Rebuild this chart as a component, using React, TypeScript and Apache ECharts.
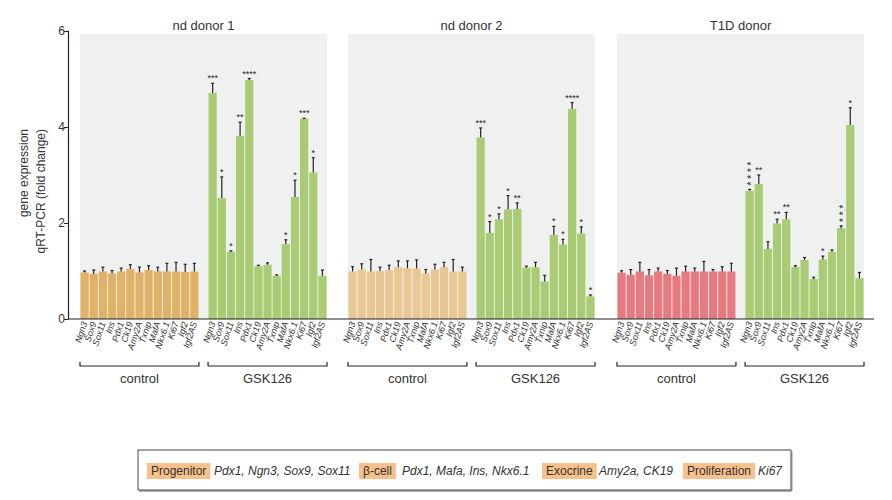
import React, { useEffect, useRef } from "react";
import * as echarts from "echarts";

const GENES = ["Ngn3", "Sox9", "Sox11", "Ins", "Pdx1", "Ck19", "Amy2A", "Txnip", "MafA", "Nkx6.1", "Ki67", "Igf2", "Igf2AS"];
const PANEL_TITLES = ["nd donor 1", "nd donor 2", "T1D donor"];
const GROUP_LABELS = ["control", "GSK126"];

// nd donor 1
const ctrl1 = [0.97, 0.94, 0.99, 0.95, 0.99, 1.04, 0.97, 1.02, 0.99, 0.99, 0.99, 0.98, 0.99];
const ctrl1Err = [0.03, 0.08, 0.09, 0.06, 0.07, 0.09, 0.11, 0.09, 0.09, 0.17, 0.19, 0.16, 0.17];
const gsk1 = [4.71, 2.52, 1.4, 3.82, 4.98, 1.1, 1.13, 0.9, 1.56, 2.54, 4.17, 3.05, 0.9];
const gsk1Err = [0.2, 0.44, 0.02, 0.28, 0.03, 0.02, 0.04, 0.02, 0.09, 0.35, 0.01, 0.31, 0.12];
const gsk1Stars = ["***", "*", "*", "**", "****", "", "", "", "*", "*", "***", "*", ""];

// nd donor 2
const ctrl2 = [0.99, 1.03, 0.99, 1.0, 1.02, 1.08, 1.06, 1.05, 0.95, 1.03, 1.08, 0.99, 0.99];
const ctrl2Err = [0.1, 0.12, 0.25, 0.08, 0.1, 0.13, 0.15, 0.18, 0.08, 0.11, 0.1, 0.25, 0.09];
const gsk2 = [3.78, 1.79, 2.08, 2.28, 2.29, 1.07, 1.08, 0.78, 1.75, 1.55, 4.38, 1.78, 0.47];
const gsk2Err = [0.2, 0.24, 0.11, 0.29, 0.13, 0.03, 0.1, 0.13, 0.18, 0.11, 0.13, 0.14, 0.03];
const gsk2Stars = ["***", "*", "*", "*", "**", "", "", "", "*", "*", "****", "*", "*"];

// T1D donor ("|" = stars stacked vertically)
const ctrl3 = [0.965, 0.92, 0.99, 0.91, 0.99, 0.94, 0.9, 0.99, 0.99, 0.99, 0.99, 0.99, 0.99];
const ctrl3Err = [0.04, 0.11, 0.19, 0.12, 0.07, 0.07, 0.16, 0.11, 0.07, 0.21, 0.04, 0.1, 0.17];
const gsk3 = [2.67, 2.81, 1.46, 1.99, 2.08, 1.08, 1.23, 0.83, 1.24, 1.4, 1.89, 4.04, 0.85];
const gsk3Err = [0.03, 0.19, 0.15, 0.09, 0.14, 0.03, 0.05, 0.04, 0.07, 0.04, 0.05, 0.36, 0.12];
const gsk3Stars = ["*|*|*|*", "**", "", "**", "**", "", "", "", "*", "", "*|*|*", "*", ""];

const Y_TICKS = [0, 2, 4, 6];
const PANEL_BG_TOP = 5.94;

const LEGEND_ITEMS = [
  { head: "Progenitor", genes: "Pdx1, Ngn3, Sox9, Sox11" },
  { head: "β-cell", genes: "Pdx1, Mafa, Ins, Nkx6.1" },
  { head: "Exocrine", genes: "Amy2a, CK19" },
  { head: "Proliferation", genes: "Ki67" },
];

const PANELS = [
  { ctrl: ctrl1, ctrlErr: ctrl1Err, gsk: gsk1, gskErr: gsk1Err, stars: gsk1Stars, ctrlColor: "#dfb267" },
  { ctrl: ctrl2, ctrlErr: ctrl2Err, gsk: gsk2, gskErr: gsk2Err, stars: gsk2Stars, ctrlColor: "#e8c793" },
  { ctrl: ctrl3, ctrlErr: ctrl3Err, gsk: gsk3, gskErr: gsk3Err, stars: gsk3Stars, ctrlColor: "#e57a80" },
];

const GREEN = "#a9cb73";
const FONT = "'Liberation Sans', Arial, Helvetica, sans-serif";

// layout
const PANEL_LEFT = [80, 348, 617];
const PANEL_W = 247;
const GRID_TOP = 31;
const GRID_H = 288;
const BASE_Y = GRID_TOP + GRID_H;
const NSLOT = 27;
const SLOT = PANEL_W / NSLOT;
const LEGEND_HEAD_X = [147, 359, 542, 683];
const LEGEND_GENE_X = [214, 402, 599, 758];

const CATS = [...GENES, "", ...GENES];

export default function App() {
  const ref = useRef<HTMLDivElement>(null);
  useEffect(() => {
    if (!ref.current) return;
    const chart = echarts.init(ref.current, undefined, { renderer: "svg" });

    const grids: any[] = [];
    const xAxes: any[] = [];
    const yAxes: any[] = [];
    const series: any[] = [];
    const graphic: any[] = [];

    PANELS.forEach((p, i) => {
      grids.push({
        left: PANEL_LEFT[i],
        top: GRID_TOP,
        width: PANEL_W,
        height: GRID_H,
        show: false,
      });
      xAxes.push({
        type: "category",
        gridIndex: i,
        data: CATS,
        axisLine: { show: false },
        axisTick: { show: false },
        axisLabel: {
          interval: 0,
          rotate: 72,
          fontSize: 9,
          fontStyle: "italic",
          color: "#333",
          margin: 3,
          fontFamily: FONT,
        },
      });
      yAxes.push({
        type: "value",
        gridIndex: i,
        min: Y_TICKS[0],
        max: Y_TICKS[Y_TICKS.length - 1],
        interval: 2,
        show: i === 0,
        offset: 12,
        splitLine: { show: false },
        axisLine: { show: true, lineStyle: { color: "#222", width: 1.2 } },
        axisTick: { show: true, length: 4, lineStyle: { color: "#222" } },
        axisLabel: { fontSize: 12, color: "#333", margin: 3, fontFamily: FONT },
      });

      const means: (number | null)[] = [...p.ctrl, null, ...p.gsk];
      const errs: (number | null)[] = [...p.ctrlErr, null, ...p.gskErr];
      const stars: string[] = [...p.ctrl.map(() => ""), "", ...p.stars];

      // panel background
      series.push({
        type: "line",
        xAxisIndex: i,
        yAxisIndex: i,
        z: 0,
        silent: true,
        data: [],
        markArea: {
          silent: true,
          itemStyle: { color: "#eff0f0", borderWidth: 0 },
          label: { show: false },
          data: [[{ yAxis: PANEL_BG_TOP }, { yAxis: 0 }]],
        },
      });

      series.push({
        type: "bar",
        xAxisIndex: i,
        yAxisIndex: i,
        z: 2,
        barCategoryGap: "10%",
        data: means.map((v, k) =>
          v === null
            ? "-"
            : { value: v, itemStyle: { color: k < 13 ? p.ctrlColor : GREEN } }
        ),
      });

      const errData: any[] = [];
      means.forEach((v, k) => {
        if (v !== null) errData.push([k, v, errs[k], k]);
      });
      series.push({
        type: "custom",
        xAxisIndex: i,
        yAxisIndex: i,
        z: 3,
        clip: false,
        encode: { x: 0, y: 1 },
        data: errData,
        renderItem: (params: any, api: any) => {
          const x = api.value(0);
          const m = api.value(1);
          const e = api.value(2);
          const k = api.value(3);
          const p0 = api.coord([x, m]);
          const p1 = api.coord([x, m + e]);
          const children: any[] = [
            {
              type: "line",
              shape: { x1: p0[0], y1: p0[1], x2: p1[0], y2: p1[1] },
              style: { stroke: "#222", lineWidth: 1.2 },
            },
            {
              type: "line",
              shape: { x1: p1[0] - 1.5, y1: p1[1], x2: p1[0] + 1.5, y2: p1[1] },
              style: { stroke: "#222", lineWidth: 1.2 },
            },
          ];
          const s = stars[k];
          if (s) {
            const rows = s.split("|");
            if (rows.length > 1) {
              // vertical stack: one text turned upright
              children.push({
                type: "text",
                x: p1[0] + 2,
                y: p1[1] - 4,
                rotation: Math.PI / 2,
                style: {
                  text: rows.join(" "),
                  fontSize: 10,
                  fill: "#222",
                  align: "left",
                  verticalAlign: "middle",
                  fontFamily: FONT,
                },
              });
            } else {
              children.push({
                type: "text",
                x: p1[0],
                y: p1[1] - 0.5,
                style: {
                  text: s,
                  fontSize: 9,
                  fill: "#222",
                  align: "center",
                  verticalAlign: "bottom",
                  fontFamily: FONT,
                },
              });
            }
          }
          return { type: "group", children };
        },
      });

      // panel title
      graphic.push({
        type: "text",
        x: PANEL_LEFT[i] + PANEL_W / 2,
        y: 25,
        style: {
          text: PANEL_TITLES[i],
          fontSize: 13,
          fill: "#333",
          align: "center",
          verticalAlign: "middle",
          fontFamily: FONT,
        },
      });

      // group brackets
      [0, 1].forEach((g) => {
        const x1 = PANEL_LEFT[i] + (g === 0 ? 0 : 14 * SLOT);
        const x2 = x1 + 13 * SLOT;
        graphic.push({
          type: "polyline",
          shape: { points: [[x1, 362], [x1, 366], [x2, 366], [x2, 362]] },
          style: { stroke: "#222", lineWidth: 1.2, fill: null },
        });
        graphic.push({
          type: "text",
          x: (x1 + x2) / 2,
          y: 378,
          style: {
            text: GROUP_LABELS[g],
            fontSize: 13,
            fill: "#333",
            align: "center",
            verticalAlign: "middle",
            fontFamily: FONT,
          },
        });
      });
    });

    // baseline
    graphic.push({
      type: "line",
      z: 10,
      shape: { x1: 68, y1: BASE_Y, x2: 874, y2: BASE_Y },
      style: { stroke: "#222", lineWidth: 1.2 },
    });

    // y title
    graphic.push({
      type: "text",
      x: 32,
      y: 129,
      rotation: Math.PI / 2,
      style: {
        text: "gene expression\nqRT-PCR (fold change)",
        fontSize: 12,
        lineHeight: 17,
        fill: "#333",
        align: "right",
        verticalAlign: "middle",
        fontFamily: FONT,
      },
    });

    // legend box
    graphic.push({
      type: "line",
      shape: { x1: 139, y1: 491, x2: 792, y2: 491 },
      style: { stroke: "#999", lineWidth: 1.5 },
    });
    graphic.push({
      type: "line",
      shape: { x1: 792, y1: 451, x2: 792, y2: 491 },
      style: { stroke: "#999", lineWidth: 1 },
    });
    graphic.push({
      type: "rect",
      shape: { x: 138, y: 450, width: 653, height: 40 },
      style: { stroke: "#444", lineWidth: 1, fill: "#fff" },
    });
    LEGEND_ITEMS.forEach((it, k) => {
      graphic.push({
        type: "text",
        x: LEGEND_HEAD_X[k],
        y: 471,
        style: {
          text: it.head,
          fontSize: 12,
          fill: "#333",
          align: "left",
          verticalAlign: "middle",
          backgroundColor: "#f8c08b",
          padding: [2, 4, 2, 4],
          fontFamily: FONT,
        },
      });
      graphic.push({
        type: "text",
        x: LEGEND_GENE_X[k],
        y: 471,
        style: {
          text: it.genes,
          fontSize: 12,
          fontStyle: "italic",
          fill: "#333",
          align: "left",
          verticalAlign: "middle",
          fontFamily: FONT,
        },
      });
    });

    chart.setOption({
      animation: false,
      textStyle: { fontFamily: FONT },
      grid: grids,
      xAxis: xAxes,
      yAxis: yAxes,
      series,
      graphic,
    });
    return () => chart.dispose();
  }, []);
  return (
    <div
      ref={ref}
      style={{ position: "absolute", left: 0, top: 0, width: 892, height: 500, background: "#fff" }}
    />
  );
}
